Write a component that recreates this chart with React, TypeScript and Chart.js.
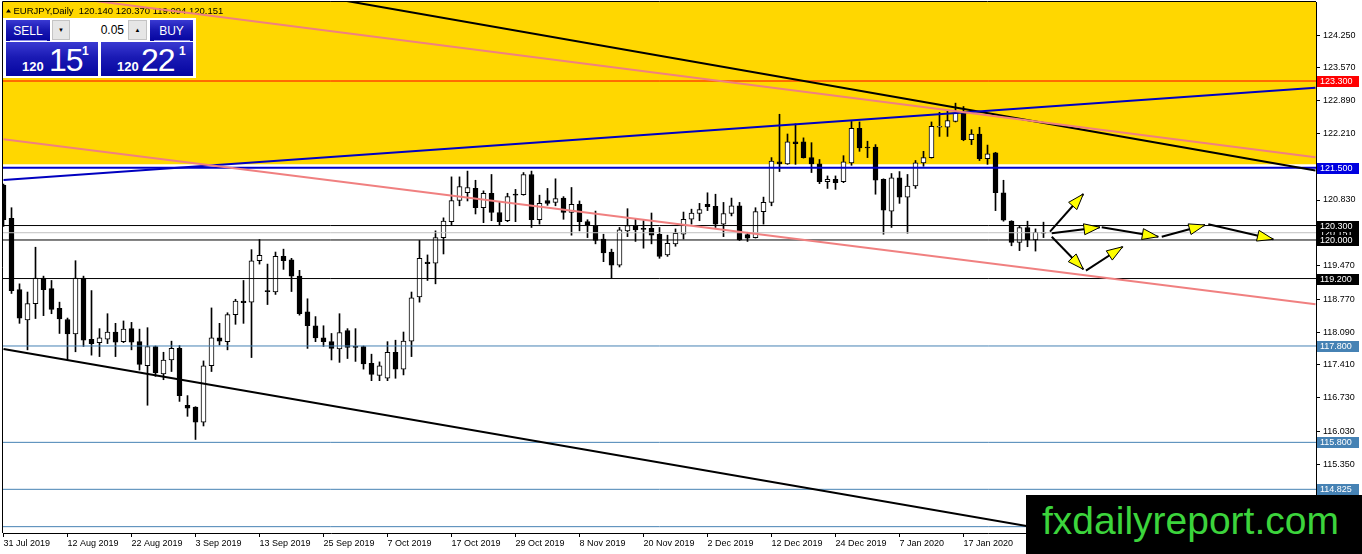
import React, { useEffect, useRef } from "react";
import { Chart, registerables } from "chart.js";

Chart.register(...registerables);

// ---------- DATA ----------
const titleText = "EURJPY,Daily  120.140 120.370 119.094 120.151";

const xTickBars = [0, 8, 16, 24, 32, 40, 48, 56, 64, 72, 80, 88, 96, 104, 112, 120, 128];
const xTickLabels = [
  "31 Jul 2019", "12 Aug 2019", "22 Aug 2019", "3 Sep 2019", "13 Sep 2019", "25 Sep 2019",
  "7 Oct 2019", "17 Oct 2019", "29 Oct 2019", "8 Nov 2019", "20 Nov 2019", "2 Dec 2019",
  "12 Dec 2019", "24 Dec 2019", "7 Jan 2020", "17 Jan 2020", "29 Jan 2020",
];

const yTickValues = [
  124.25, 123.57, 122.89, 122.21, 121.53, 120.83, 120.15, 119.47, 118.77, 118.09,
  117.41, 116.73, 116.03, 115.35, 114.67,
];

const opens = [
  121.14, 120.45, 118.97, 118.34, 118.68, 119.21, 118.99, 118.58, 118.35, 118.05,
  119.21, 117.94, 117.87, 117.94, 118.09, 117.89, 118.16, 117.89, 117.39, 117.79,
  117.22, 117.51, 117.75, 116.57, 116.53, 116.22, 117.39, 117.97, 117.89, 118.45,
  118.73, 118.71, 119.57, 118.95, 118.92, 119.66, 119.59, 119.25, 118.51, 118.22,
  117.97, 117.89, 117.74, 118.12, 117.79, 117.79, 117.44, 117.19, 117.13, 117.67,
  117.32, 117.90, 118.82, 119.54, 119.52, 120.05, 120.38, 120.82, 120.98, 121.07,
  120.67, 120.97, 120.57, 120.40, 120.95, 120.94, 121.36, 120.42, 120.82, 120.78,
  120.87, 120.57, 120.74, 120.38, 120.30, 120.02, 119.75, 119.48, 120.19, 120.30,
  120.24, 120.24, 120.12, 119.69, 119.92, 120.12, 120.43, 120.55, 120.74, 120.70,
  120.33, 120.55, 120.71, 120.11, 120.05, 120.59, 120.78, 121.62, 121.58, 122.04,
  122.04, 121.71, 121.58, 121.21, 121.26, 121.21, 121.60, 122.32, 121.93, 121.93,
  121.26, 120.60, 121.29, 120.89, 121.12, 121.60, 121.71, 122.34, 122.34, 122.46,
  122.65, 122.08, 122.20, 121.69, 121.81, 120.98, 120.39, 119.95, 120.26, 120.00,
  120.14,
];

const highs = [
  121.16, 120.67, 119.09, 118.92, 119.85, 119.25, 119.16, 118.71, 118.38, 119.57,
  119.25, 118.95, 118.16, 118.47, 118.27, 118.32, 118.29, 118.15, 118.18, 117.80,
  117.67, 117.90, 117.81, 116.77, 116.54, 117.49, 118.59, 118.27, 118.49, 118.77,
  119.16, 119.80, 120.01, 119.50, 119.75, 119.81, 119.62, 119.37, 118.78, 118.41,
  118.22, 118.06, 118.47, 118.16, 118.16, 117.80, 117.63, 117.47, 117.89, 117.92,
  118.09, 118.92, 119.99, 119.69, 120.19, 120.46, 121.31, 121.31, 121.43, 121.24,
  121.02, 121.36, 120.78, 120.97, 121.05, 121.40, 121.43, 120.93, 121.07, 121.27,
  120.90, 121.09, 120.81, 120.42, 120.60, 120.12, 119.81, 120.26, 120.65, 120.43,
  120.40, 120.56, 120.26, 120.10, 120.23, 120.58, 120.64, 120.76, 120.98, 120.95,
  120.78, 120.87, 120.78, 120.16, 120.67, 120.89, 121.71, 122.61, 122.20, 122.41,
  122.12, 122.02, 121.67, 121.33, 121.33, 121.75, 122.46, 122.45, 122.05, 121.98,
  121.27, 121.38, 121.42, 121.36, 121.65, 121.84, 122.45, 122.65, 122.68, 122.84,
  122.77, 122.29, 122.34, 121.97, 121.82, 121.24, 120.40, 120.30, 120.39, 120.23,
  120.37,
];

const lows = [
  120.28, 118.89, 118.27, 117.72, 118.37, 118.43, 118.47, 118.06, 117.51, 117.68,
  117.79, 117.61, 117.58, 117.85, 117.58, 117.87, 117.72, 117.30, 116.57, 117.17,
  117.10, 117.27, 116.65, 116.34, 115.86, 116.14, 117.27, 117.82, 117.72, 118.25,
  118.27, 117.56, 119.50, 118.66, 118.87, 119.39, 118.93, 118.44, 117.75, 117.89,
  117.79, 117.51, 117.46, 117.54, 117.48, 117.32, 117.08, 117.08, 117.08, 117.13,
  117.20, 117.58, 118.71, 119.16, 119.09, 119.71, 120.30, 120.71, 120.81, 120.54,
  120.36, 120.40, 120.31, 120.38, 120.38, 120.93, 120.26, 120.33, 120.72, 120.71,
  120.43, 120.10, 120.19, 120.05, 119.92, 119.55, 119.21, 119.44, 120.07, 119.97,
  119.83, 119.92, 119.62, 119.66, 119.87, 120.02, 120.33, 120.40, 120.61, 120.26,
  120.07, 120.50, 119.99, 119.97, 120.04, 120.33, 120.71, 121.42, 121.57, 121.57,
  121.70, 121.40, 121.17, 121.07, 121.05, 121.19, 121.55, 121.84, 121.71, 120.95,
  120.12, 120.26, 120.76, 120.14, 121.07, 121.53, 121.70, 122.15, 122.15, 122.45,
  122.06, 121.98, 121.65, 121.57, 120.61, 120.39, 119.88, 119.78, 119.86, 119.77,
  120.05,
];

const closes = [
  120.42, 118.95, 118.38, 118.68, 119.21, 118.97, 118.56, 118.36, 118.05, 119.21,
  117.92, 117.85, 117.97, 118.09, 117.88, 118.15, 117.88, 117.42, 117.79, 117.24,
  117.51, 117.75, 116.77, 116.51, 116.22, 117.39, 117.97, 117.90, 118.45, 118.73,
  118.70, 119.57, 119.68, 118.93, 119.66, 119.57, 119.25, 118.47, 118.22, 117.97,
  117.89, 117.75, 118.08, 117.77, 117.77, 117.43, 117.21, 117.39, 117.67, 117.32,
  117.90, 118.80, 119.62, 119.51, 120.05, 120.39, 120.82, 121.11, 121.09, 120.67,
  120.97, 120.57, 120.38, 120.90, 120.93, 121.36, 120.42, 120.76, 120.76, 120.86,
  120.57, 120.74, 120.38, 120.31, 119.99, 119.73, 119.48, 120.21, 120.30, 120.21,
  120.22, 120.10, 119.66, 119.93, 120.14, 120.43, 120.56, 120.63, 120.69, 120.33,
  120.55, 120.71, 120.00, 120.04, 120.59, 120.78, 121.64, 121.58, 122.04, 122.00,
  121.71, 121.58, 121.21, 121.26, 121.19, 121.62, 122.32, 121.91, 121.91, 121.24,
  120.62, 121.29, 120.89, 121.12, 121.60, 121.71, 122.36, 122.35, 122.48, 122.63,
  122.08, 122.20, 121.69, 121.79, 120.98, 120.41, 119.95, 120.26, 120.00, 120.16,
  120.151,
];

// horizontal levels (price)
const levelPrices = [123.3, 121.5, 120.151, 120.3, 120.0, 119.2, 117.8, 115.8, 114.825, 114.05];

// yellow zone (price range)
const zoneLow = 121.57;
const zoneHigh = 126;

// trend lines: [barIndex0, price0, barIndex1, price1]
const trendBlackUpper = [40, 125.045, 164, 121.442];
const trendBlackLower = [0, 117.738, 164, 113.026];
const trendBlue = [0, 121.245, 164, 123.159];
const trendPinkUpper = [0, 125.205, 164, 121.718];
const trendPinkLower = [0, 122.09, 164, 118.665];

// forecast arrows: [barIndex0, price0, barIndex1, price1]
const arrows = [
  [130.81, 120.172, 134.98, 120.955],
  [131.03, 120.139, 137.06, 120.264],
  [137.28, 120.264, 144.35, 120.068],
  [144.78, 120.068, 150.19, 120.311],
  [150.6, 120.326, 158.73, 120.014],
  [131.03, 120.068, 134.98, 119.392],
  [135.31, 119.363, 139.9, 119.86],
];

// ---------- STYLES ----------
const FONT = "'Liberation Sans', Arial, sans-serif";
const levelLineStyles: Record<string, { color: string; width: number; label: string }> = {
  "123.3": { color: "#FF0000", width: 1, label: "#FF0000" },
  "121.5": { color: "#0000C8", width: 2, label: "#0000E0" },
  "120.151": { color: "#C0C0C0", width: 1, label: "#000000" },
  "120.3": { color: "#000000", width: 1, label: "#000000" },
  "120": { color: "#000000", width: 1, label: "#000000" },
  "119.2": { color: "#000000", width: 1, label: "#000000" },
  "117.8": { color: "#4682B4", width: 1, label: "#4682B4" },
  "115.8": { color: "#4682B4", width: 1, label: "#4682B4" },
  "114.825": { color: "#4682B4", width: 1, label: "#4682B4" },
  "114.05": { color: "#4682B4", width: 1, label: "#4682B4" },
};

const seg = (s: number[]) => [
  { x: s[0], y: s[1] },
  { x: s[2], y: s[3] },
];

const mt4Plugin = {
  id: "mt4overlay",
  afterDatasetDraw(chart: any, args: any) {
    if (args.index !== 0) return;
    const ctx = chart.ctx;
    ctx.save();
    ctx.fillStyle = "#000";
    ctx.beginPath();
    ctx.moveTo(6, 12.5);
    ctx.lineTo(11, 12.5);
    ctx.lineTo(8.5, 9);
    ctx.closePath();
    ctx.fill();
    ctx.font = `9.5px ${FONT}`;
    ctx.textBaseline = "alphabetic";
    ctx.textAlign = "left";
    ctx.fillText(titleText, 13.5, 13.5);
    ctx.restore();
  },
  afterDatasetsDraw(chart: any) {
    const ctx = chart.ctx;
    const area = chart.chartArea;
    ctx.save();
    ctx.beginPath();
    ctx.rect(area.left, area.top, area.right - area.left, area.bottom - area.top);
    ctx.clip();
    chart.data.datasets.forEach((ds: any, i: number) => {
      if (!ds.isArrow) return;
      const meta = chart.getDatasetMeta(i);
      const a = meta.data[0];
      const b = meta.data[1];
      if (!a || !b) return;
      const ang = Math.atan2(b.y - a.y, b.x - a.x);
      const L = 16;
      const W = 5.5;
      const bx = b.x - Math.cos(ang) * L;
      const by = b.y - Math.sin(ang) * L;
      const nx = -Math.sin(ang) * W;
      const ny = Math.cos(ang) * W;
      ctx.beginPath();
      ctx.moveTo(b.x, b.y);
      ctx.lineTo(bx + nx, by + ny);
      ctx.lineTo(bx - nx, by - ny);
      ctx.closePath();
      ctx.fillStyle = "#FFFF00";
      ctx.fill();
      ctx.lineWidth = 1;
      ctx.strokeStyle = "#000";
      ctx.stroke();
    });
    ctx.restore();
  },
  afterDraw(chart: any) {
    const ctx = chart.ctx;
    const area = chart.chartArea;
    const y = chart.scales.y;
    ctx.save();
    // frame (left / top)
    ctx.strokeStyle = "#000";
    ctx.lineWidth = 1;
    ctx.beginPath();
    ctx.moveTo(area.left - 0.5, area.bottom);
    ctx.lineTo(area.left - 0.5, area.top - 0.5);
    ctx.lineTo(area.right, area.top - 0.5);
    ctx.stroke();
    // price labels
    ctx.font = `9px ${FONT}`;
    ctx.textBaseline = "middle";
    ctx.textAlign = "left";
    levelPrices.forEach((p) => {
      const st = levelLineStyles[String(p)];
      const py = Math.round(y.getPixelForValue(p));
      ctx.fillStyle = st.label;
      ctx.fillRect(area.right + 1, py - 5, 42, 11);
      ctx.fillStyle = "#fff";
      ctx.fillText(p.toFixed(3), area.right + 4, py + 0.5);
    });
    ctx.restore();
  },
};

function ChartCanvas() {
  const ref = useRef<HTMLCanvasElement | null>(null);
  useEffect(() => {
    if (!ref.current) return;
    const datasets: any[] = [];
    // 0: yellow zone
    datasets.push({
      type: "line",
      data: [
        { x: -5, y: zoneHigh },
        { x: 170, y: zoneHigh },
      ],
      borderColor: "rgba(0,0,0,0)",
      borderWidth: 0,
      pointRadius: 0,
      fill: { value: zoneLow },
      backgroundColor: "#FFD700",
      order: 100,
    });
    // wicks
    datasets.push({
      type: "bar",
      data: highs.map((h, i) => ({ x: i, y: [lows[i], h] })),
      backgroundColor: "#000",
      borderWidth: 0,
      barThickness: 1,
      grouped: false,
      order: 60,
    });
    // bodies
    datasets.push({
      type: "bar",
      data: opens.map((o, i) => ({ x: i, y: [o, closes[i]] })),
      backgroundColor: opens.map((o, i) => (closes[i] >= o ? "#FFFFFF" : "#000000")),
      borderColor: "#000",
      borderWidth: 1,
      borderSkipped: false,
      barThickness: 5,
      minBarLength: 1,
      grouped: false,
      order: 50,
    });
    // horizontal levels
    levelPrices.forEach((p) => {
      const st = levelLineStyles[String(p)];
      datasets.push({
        type: "line",
        data: [
          { x: -5, y: p },
          { x: 170, y: p },
        ],
        borderColor: st.color,
        borderWidth: st.width,
        pointRadius: 0,
        fill: false,
        order: p === 120.151 ? 41 : 40,
      });
    });
    const trend = (s: number[], color: string) => ({
      type: "line",
      data: seg(s),
      borderColor: color,
      borderWidth: 2,
      pointRadius: 0,
      fill: false,
      order: 30,
    });
    datasets.push(trend(trendPinkUpper, "#F08080"));
    datasets.push(trend(trendPinkLower, "#F08080"));
    datasets.push(trend(trendBlue, "#0000C0"));
    datasets.push(trend(trendBlackUpper, "#000000"));
    datasets.push(trend(trendBlackLower, "#000000"));
    arrows.forEach((s) => {
      datasets.push({
        type: "line",
        data: seg(s),
        borderColor: "#000",
        borderWidth: 2,
        pointRadius: 0,
        fill: false,
        order: 10,
        isArrow: true,
      });
    });

    const tickFont = { family: FONT, size: 9 };
    const chart = new Chart(ref.current, {
      type: "bar",
      data: { datasets },
      options: {
        animation: false,
        responsive: false,
        maintainAspectRatio: false,
        events: [],
        layout: { padding: { left: 3, top: 2, right: 0, bottom: 0 } },
        plugins: {
          legend: { display: false },
          tooltip: { enabled: false },
          title: { display: false },
        },
        scales: {
          x: {
            type: "linear",
            min: -0.0625,
            max: 164.0625,
            offset: false,
            grid: {
              display: true,
              drawOnChartArea: false,
              drawTicks: true,
              tickLength: 4,
              color: "#000",
              offset: false,
            },
            border: { display: true, color: "#000" },
            ticks: {
              autoSkip: false,
              maxRotation: 0,
              minRotation: 0,
              align: "start",
              padding: 1,
              color: "#000",
              font: tickFont,
              callback: (_v: any, idx: number) => xTickLabels[idx] ?? "",
            },
            afterBuildTicks: (s: any) => {
              s.ticks = xTickBars.map((v) => ({ value: v }));
            },
            afterFit: (s: any) => {
              s.height = 21;
              s.paddingLeft = 0;
              s.paddingRight = 0;
            },
          },
          y: {
            type: "linear",
            position: "right",
            min: 113.9185,
            max: 124.9397,
            grid: {
              display: true,
              drawOnChartArea: false,
              drawTicks: true,
              tickLength: 4,
              color: "#000",
            },
            border: { display: true, color: "#000" },
            ticks: {
              autoSkip: false,
              padding: 3,
              color: "#000",
              font: tickFont,
              callback: (v: any) => Number(v).toFixed(3),
            },
            afterBuildTicks: (s: any) => {
              s.ticks = yTickValues.map((v) => ({ value: v }));
            },
            afterFit: (s: any) => {
              s.width = 46;
              s.paddingTop = 0;
              s.paddingBottom = 0;
            },
          },
        },
      } as any,
      plugins: [mt4Plugin],
    } as any);
    return () => chart.destroy();
  }, []);
  return (
    <canvas
      ref={ref}
      width={1362}
      height={554}
      style={{ position: "absolute", left: 0, top: 0, width: 1362, height: 554 }}
    />
  );
}

const blueGrad = "linear-gradient(180deg, #3a3ad2 0%, #1a1ab4 45%, #0505a0 100%)";
const abs = (l: number, t: number, w: number, h: number, extra: any = {}) => ({
  position: "absolute" as const,
  left: l,
  top: t,
  width: w,
  height: h,
  ...extra,
});

function TradePanel() {
  const btnText = {
    color: "#fff",
    font: `12px ${FONT}`,
    display: "flex",
    alignItems: "center",
    justifyContent: "center",
  };
  return (
    <>
      <div style={abs(3, 18, 193, 60, { background: "#ffffff" })} />
      <div style={abs(6, 20, 44, 21, { background: blueGrad, ...btnText })}>SELL</div>
      <div style={abs(150, 20, 43, 21, { background: blueGrad, ...btnText })}>BUY</div>
      <div style={abs(10, 40, 37, 1, { background: "#8a8ae8" })} />
      <div style={abs(154, 40, 36, 1, { background: "#8a8ae8" })} />
      <div
        style={abs(52, 20, 18, 20, {
          background: "#e6e6e6",
          border: "1px solid #c4c4c4",
          boxSizing: "border-box",
          font: `6px ${FONT}`,
          display: "flex",
          alignItems: "center",
          justifyContent: "center",
          color: "#000",
        })}
      >
        ▼
      </div>
      <div
        style={abs(70, 20, 58, 20, {
          background: "#fff",
          font: `12px ${FONT}`,
          color: "#000",
          textAlign: "right",
          lineHeight: "20px",
          paddingRight: 4,
          boxSizing: "border-box",
        })}
      >
        0.05
      </div>
      <div
        style={abs(128, 20, 19, 20, {
          background: "#e6e6e6",
          border: "1px solid #c4c4c4",
          boxSizing: "border-box",
          font: `6px ${FONT}`,
          display: "flex",
          alignItems: "center",
          justifyContent: "center",
          color: "#000",
        })}
      >
        ▲
      </div>
      {[
        { left: 6, big: "15", bigL: 43, smallL: 16, supL: 76 },
        { left: 101, big: "22", bigL: 40, smallL: 16, supL: 78 },
      ].map((b, k) => (
        <div key={k} style={abs(b.left, 42, 92, 34, { background: blueGrad, color: "#fff" })}>
          <span style={abs(b.smallL, 18, 30, 13, { font: `bold 13px ${FONT}`, lineHeight: "13px" })}>120</span>
          <span
            style={abs(b.bigL, 1.5, 40, 32, {
              font: `32px ${FONT}`,
              lineHeight: "32px",
              letterSpacing: -1,
            })}
          >
            {b.big}
          </span>
          <span style={abs(b.supL, 2.5, 10, 12, { font: `bold 12px ${FONT}`, lineHeight: "12px" })}>1</span>
        </div>
      ))}
    </>
  );
}

export default function App() {
  return (
    <div
      style={{
        position: "fixed",
        left: 0,
        top: 0,
        width: 1362,
        height: 554,
        background: "#fff",
        overflow: "hidden",
        fontFamily: FONT,
      }}
    >
      <ChartCanvas />
      <TradePanel />
      <div style={abs(1026, 495, 336, 59, { background: "#000" })}>
        <span
          style={abs(16, 6, 330, 39, {
            color: "#3CD43C",
            font: `39px ${FONT}`,
            lineHeight: "39px",
            whiteSpace: "nowrap",
          })}
        >
          fxdailyreport.com
        </span>
      </div>
    </div>
  );
}
